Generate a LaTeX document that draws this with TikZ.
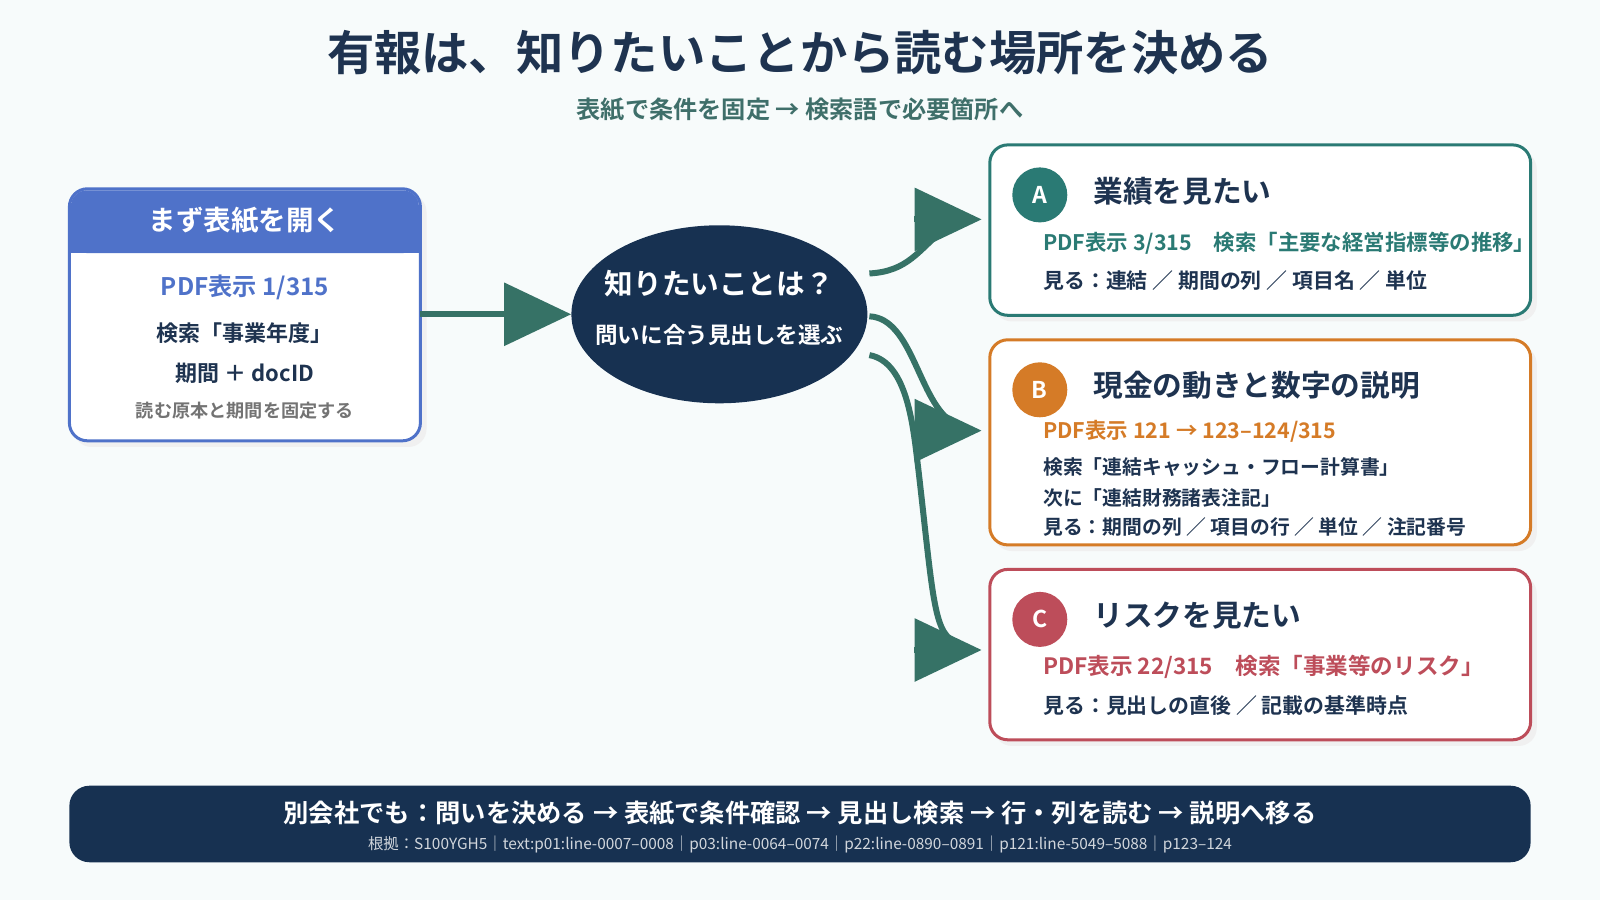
\documentclass[tikz,border=0pt]{standalone}
\usepackage{fontspec}
\setmainfont{Noto Sans CJK JP}[BoldFont={Noto Sans CJK JP Bold}]
\usetikzlibrary{arrows.meta,shapes.geometric}
\definecolor{navy}{HTML}{173151}
\definecolor{ink}{HTML}{1E3350}
\definecolor{arr}{HTML}{367266}
\definecolor{blu}{HTML}{4F72C9}
\definecolor{tea}{HTML}{2A7A74}
\definecolor{ora}{HTML}{D57B27}
\definecolor{red}{HTML}{BD4D5A}
\definecolor{sub}{HTML}{3F6F6A}
\newcommand{\fs}[1]{\fontsize{\fpeval{#1*1.10}}{\fpeval{#1*1.1}}\selectfont}
\tikzset{
 card/.style={draw=#1,line width=3pt,fill=white,rounded corners=18pt},
 shad/.style={fill=black!6,rounded corners=18pt},
 badge/.style={circle,fill=#1,minimum size=55pt,inner sep=0pt,text=white,font=\fs{21}\bfseries},
 ttl/.style={anchor=west,text=ink,font=\fs{27}\bfseries},
 ln/.style={anchor=west,text=ink,font=\fs{18}\bfseries},
 flow/.style={draw=arr,line width=6pt},
 head/.style={draw=arr,line width=6pt,-{Triangle[length=67pt,width=62pt]}},
 t/.style={inner sep=0pt}
}
\begin{document}
\begin{tikzpicture}[x=1.0204pt,y=-1.0204pt]
\fill[white!95!teal!60] (0,0) rectangle (1568,882);
\node[t,text=ink,font=\fs{43}\bfseries] (title) at (784,52) {有報は、知りたいことから読む場所を決める};
\node[t,text=sub,font=\fs{22}\bfseries] (subt) at (784,107) {表紙で条件を固定 → 検索語で必要箇所へ};
% left box
\fill[shad] (72,190) rectangle (418,438);
\path[card=blu] (68,185) rectangle (412,432);
\fill[blu,rounded corners=16pt] (69.5,186.5) rectangle (410.5,248);
\fill[blu] (69.5,220) rectangle (410.5,248);
\node[t,text=white,font=\fs{25}\bfseries] (h) at (240,216) {まず表紙を開く};
\node[t,text=blu,font=\fs{22}\bfseries] at (240,282) {PDF表示 1/315};
\node[t,text=ink,font=\fs{20}\bfseries] at (240,326) {検索「事業年度」};
\node[t,text=ink,font=\fs{20}\bfseries] at (240,366) {期間 ＋ docID};
\node[t,text=black!55,font=\fs{16.5}\bfseries] at (240,402) {読む原本と期間を固定する};
\coordinate (boxR) at (412,308);
% ellipse
\node[ellipse,fill=navy,minimum width=296pt,minimum height=178pt] (q) at (705,308) {};
\node[t,text=white,font=\fs{26}\bfseries] at (705,278) {知りたいことは？};
\node[t,text=white,font=\fs{20.5}\bfseries] at (705,328) {問いに合う見出しを選ぶ};
\draw[head] (boxR) -- (q.west);
% cards
\foreach \a/\b in {142/309,333/534,558/725}{\fill[shad] (974,\a+6) rectangle (1506,\b+6);}
\path[card=tea] (970,142) rectangle (1500,309);
\path[card=ora] (970,333) rectangle (1500,534);
\path[card=red] (970,558) rectangle (1500,725);
\node[badge=tea] (ba) at (1019,191) {A};
\node[badge=ora] (bb) at (1019,382) {B};
\node[badge=red] (bc) at (1019,607) {C};
\node[ttl] at (1068,187) {業績を見たい};
\node[ttl] at (1068,378) {現金の動きと数字の説明};
\node[ttl] at (1068,603) {リスクを見たい};
\node[ln,text=tea,font=\fs{19.5}\bfseries] at (1019,238) {PDF表示 3/315\quad 検索「主要な経営指標等の推移」};
\node[ln,font=\fs{19}\bfseries] at (1019,275) {見る：連結 ／ 期間の列 ／ 項目名 ／ 単位};
\node[ln,text=ora,font=\fs{19.5}\bfseries] at (1019,423) {PDF表示 121 → 123–124/315};
\node[ln] at (1019,458) {検索「連結キャッシュ・フロー計算書」};
\node[ln] at (1019,488) {次に「連結財務諸表注記」};
\node[ln] at (1019,516) {見る：期間の列 ／ 項目の行 ／ 単位 ／ 注記番号};
\node[ln,text=red,font=\fs{20.5}\bfseries] at (1019,654) {PDF表示 22/315\quad 検索「事業等のリスク」};
\node[ln,font=\fs{19}\bfseries] at (1019,691) {見る：見出しの直後 ／ 記載の基準時点};
\coordinate (ta) at (962,215);
\coordinate (tb) at (962,422);
\coordinate (tc) at (962,637);
\coordinate (ea) at (925,225);
\coordinate (eb) at (935,415);
\coordinate (ec) at (940,630);
\draw[flow] (852,268) .. controls (890,266) and (900,245) .. (ea);
\draw[flow] (852,310) .. controls (895,312) and (900,395) .. (eb);
\draw[flow] (852,348) .. controls (890,355) and (895,420) .. (900,460) .. controls (915,590) and (915,625) .. (ec);
\draw[head] (896,215) -- (ta);
\draw[head] (896,422) -- (tb);
\draw[head] (896,637) -- (tc);
% footer
\fill[navy,rounded corners=20pt] (68,770) rectangle (1500,845);
\node[t,text=white,font=\fs{23}\bfseries] (foot) at (784,797) {別会社でも：問いを決める → 表紙で条件確認 → 見出し検索 → 行・列を読む → 説明へ移る};
\node[t,text=white!80!navy,font=\fs{14}] at (784,828) {根拠：S100YGH5｜text:p01:line-0007–0008｜p03:line-0064–0074｜p22:line-0890–0891｜p121:line-5049–5088｜p123–124};
\end{tikzpicture}
\end{document}
